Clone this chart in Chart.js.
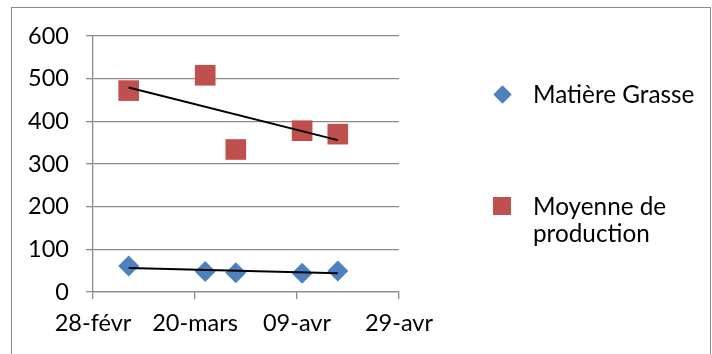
<!DOCTYPE html>
<html>
<head>
<meta charset="utf-8">
<script src="https://cdn.jsdelivr.net/npm/chart.js@4"></script>
<style>
  html, body { margin: 0; padding: 0; background: #fff; }
  body { width: 712px; height: 354px; position: relative; overflow: hidden; font-family: Lato, "Open Sans", sans-serif; }
  #frame { position: absolute; left: 11px; top: 7px; width: 700px; height: 400px; border: 1.5px solid #8a8a8a; box-sizing: border-box; }
  #wrap { position: absolute; left: 0; top: 0; width: 712px; height: 354px; }
  #legend { position: absolute; left: 0; top: 0; width: 712px; height: 354px; pointer-events: none; }
  .lg-item { position: absolute; left: 533px; font-size: 24.3px; line-height: 27px; color: #000; }
  .lg-mark { position: absolute; }
</style>
</head>
<body>
<div id="frame"></div>
<div id="wrap"><canvas id="c" width="712" height="354"></canvas></div>
<div id="legend"></div>
<script>
// ---- data ----
const seriesNames = ["Matière Grasse", "Moyenne de production"];
const dates = ["2015-03-07", "2015-03-22", "2015-03-28", "2015-04-10", "2015-04-17"];
const matiereGrasse = [61, 48, 45, 44, 49];
const moyenneProduction = [472, 508, 334, 378, 370];
const originDate = "2015-02-28";
const xTickDays = [0, 20, 40, 60];
const xTickLabels = ["28-févr", "20-mars", "09-avr", "29-avr"];
const yTicks = [0, 100, 200, 300, 400, 500, 600];

const BLUE = "#4F81BD", RED = "#C0504D";
const DAY = 86400000;
const dayOf = s => Math.round((Date.parse(s) - Date.parse(originDate)) / DAY);
const xs = dates.map(dayOf);

function trend(ys) {
  const n = xs.length;
  const mx = xs.reduce((a, b) => a + b, 0) / n;
  const my = ys.reduce((a, b) => a + b, 0) / n;
  let sxy = 0, sxx = 0;
  for (let i = 0; i < n; i++) { sxy += (xs[i] - mx) * (ys[i] - my); sxx += (xs[i] - mx) ** 2; }
  const m = sxy / sxx, b = my - m * mx;
  const x0 = Math.min(...xs), x1 = Math.max(...xs);
  return [{ x: x0, y: m * x0 + b }, { x: x1, y: m * x1 + b }];
}
const pts = ys => xs.map((x, i) => ({ x, y: ys[i] }));

const FONT = { family: "Lato, 'Open Sans', sans-serif", size: 23.5 };

new Chart(document.getElementById("c"), {
  type: "scatter",
  data: {
    datasets: [
      { label: "tendance MG", type: "line", data: trend(matiereGrasse), borderColor: "#000", borderWidth: 2, pointRadius: 0, fill: false, order: 0 },
      { label: "tendance MP", type: "line", data: trend(moyenneProduction), borderColor: "#000", borderWidth: 2, pointRadius: 0, fill: false, order: 0 },
      { label: seriesNames[0], data: pts(matiereGrasse), pointStyle: "rectRot", pointRadius: 10.5, backgroundColor: BLUE, borderColor: BLUE, borderWidth: 0, order: 1 },
      { label: seriesNames[1], data: pts(moyenneProduction), pointStyle: "rect", pointRadius: 14.6, backgroundColor: RED, borderColor: RED, borderWidth: 0, order: 1 }
    ]
  },
  options: {
    responsive: false,
    animation: false,
    devicePixelRatio: 1,
    layout: { padding: { left: 0, top: 36, right: 313, bottom: 0 } },
    plugins: { legend: { display: false }, tooltip: { enabled: false } },
    scales: {
      x: {
        type: "linear",
        min: xTickDays[0], max: xTickDays[xTickDays.length - 1],
        afterBuildTicks: s => { s.ticks = xTickDays.map(v => ({ value: v })); },
        afterFit: s => { s.height = 62; },
        ticks: {
          color: "#000", font: FONT, padding: 10, maxRotation: 0, autoSkip: false,
          callback: (v) => { const i = xTickDays.indexOf(v); return i >= 0 ? xTickLabels[i] : ""; }
        },
        grid: { drawOnChartArea: false, drawTicks: true, tickLength: 7, color: "#8a8a8a", lineWidth: 1.3 },
        border: { display: true, color: "#8a8a8a", width: 1.3 }
      },
      y: {
        min: yTicks[0], max: yTicks[yTicks.length - 1],
        afterBuildTicks: s => { s.ticks = yTicks.map(v => ({ value: v })); },
        afterFit: s => { s.width = 93; },
        ticks: { color: "#000", font: FONT, padding: 17 },
        grid: { drawTicks: true, tickLength: 7, color: "#8a8a8a", lineWidth: 1.3 },
        border: { display: true, color: "#8a8a8a", width: 1.3 }
      }
    }
  }
});

// HTML legend
const lg = document.getElementById("legend");
const items = [
  { name: seriesNames[0], color: BLUE, shape: "diamond", cy: 94, textTop: 80, lines: ["Matière Grasse"] },
  { name: seriesNames[1], color: RED, shape: "square", cy: 206, textTop: 192, lines: ["Moyenne de", "production"] }
];
items.forEach(it => {
  const m = document.createElement("div");
  m.className = "lg-mark";
  if (it.shape === "diamond") {
    Object.assign(m.style, { left: (502 - 6.5) + "px", top: (it.cy - 6.5) + "px", width: "13px", height: "13px", background: it.color, transform: "rotate(45deg)" });
  } else {
    Object.assign(m.style, { left: (502 - 9) + "px", top: (it.cy - 9) + "px", width: "18px", height: "18px", background: it.color });
  }
  lg.appendChild(m);
  const t = document.createElement("div");
  t.className = "lg-item";
  t.style.top = it.textTop + "px";
  t.innerHTML = it.lines.join("<br>");
  lg.appendChild(t);
});
</script>
</body>
</html>
